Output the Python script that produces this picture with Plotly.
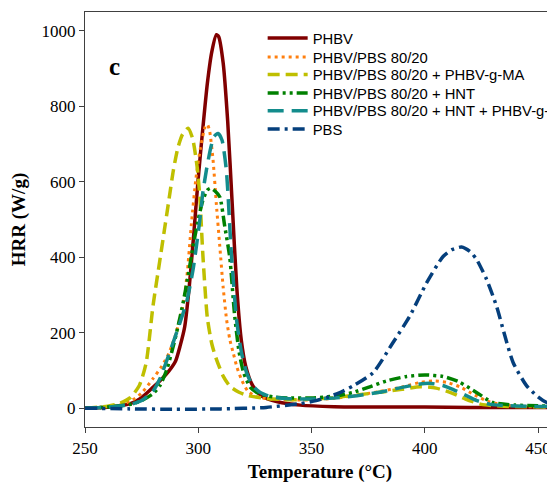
import plotly.graph_objects as go

# ---- data ----
phbv_T = [250, 260, 270, 275, 280, 284, 287, 290, 292, 294, 296, 298, 300, 302, 304, 306, 308, 309, 311, 313, 315, 317, 319, 321, 324, 328, 335, 345, 360, 380, 400, 420, 440, 458]
phbv_hrr = [0, 2, 12, 28, 55, 78, 98, 125, 165, 215, 320, 460, 610, 740, 860, 945, 990, 985, 915, 760, 540, 320, 180, 110, 60, 32, 17, 8, 4, 3, 3, 2, 2, 2]

blend_T = [250, 260, 265, 270, 275, 280, 284, 287, 290, 293, 295, 297, 299, 301, 303, 304, 305, 306.5, 308, 309.5, 311, 312.5, 314, 315.5, 317, 319, 322, 326, 332, 340, 350, 360, 370, 380, 390, 398, 404, 410, 416, 422, 428, 435, 445, 458]
blend_hrr = [0, 4, 8, 18, 40, 78, 112, 145, 195, 265, 350, 490, 610, 690, 745, 752, 735, 660, 540, 430, 320, 235, 180, 145, 110, 77, 44, 30, 24, 22, 22, 26, 34, 44, 56, 68, 72, 68, 55, 35, 18, 8, 4, 2]

ma_T = [250, 260, 265, 270, 274, 277, 280, 283, 285, 287, 289, 291, 293, 295.5, 297.5, 299.5, 300.7, 302, 304, 306, 308, 311, 314, 318, 322, 330, 340, 350, 360, 370, 380, 390, 398, 405, 412, 418, 425, 435, 458]
ma_hrr = [0, 5, 12, 28, 60, 120, 270, 390, 470, 550, 630, 690, 725, 742, 715, 640, 560, 410, 240, 170, 130, 85, 58, 42, 33, 26, 22, 24, 28, 35, 42, 50, 57, 53, 40, 24, 10, 5, 3]

hnt_T = [250, 260, 270, 275, 280, 283, 286, 289, 291, 293.3, 295.5, 297.7, 300, 302, 304, 305.5, 307.5, 309.5, 311.7, 313.9, 316, 318, 320, 323, 327, 333, 340, 350, 360, 368, 375, 383, 392, 400, 408, 415, 423, 430, 440, 450, 458]
hnt_hrr = [0, 3, 10, 20, 38, 59, 100, 165, 215, 279, 350, 429, 500, 550, 578, 583, 575, 560, 482, 400, 250, 150, 95, 55, 38, 30, 27, 27, 32, 41, 55, 72, 84, 88, 84, 70, 41, 15, 8, 6, 5]

hntma_T = [250, 260, 270, 275, 280, 283, 287.4, 291, 294.8, 297.7, 300.7, 302, 303.6, 305.5, 307, 308.8, 310.5, 312.4, 314.6, 316.9, 319, 321.3, 324, 327.2, 332, 340, 350, 360, 370, 380, 390, 397, 402, 408, 413, 417, 423, 429, 435, 445, 458]
hntma_hrr = [0, 3, 10, 20, 45, 77, 148, 210, 280, 367, 499, 570, 631, 690, 720, 728, 710, 631, 411, 235, 150, 95, 60, 42, 30, 25, 24, 27, 33, 42, 55, 63, 66, 60, 48, 37, 20, 10, 7, 5, 4]

pbs_T = [250, 270, 290, 310, 330, 345, 352, 356.6, 362, 368.4, 377.2, 386, 393.4, 400.8, 408.1, 412, 416.2, 420, 422.9, 427.3, 431.7, 435.4, 439, 445, 450, 453.8, 458]
pbs_hrr = [0, -2, -3, -2, 2, 12, 20, 28, 40, 59, 94, 174, 244, 332, 402, 420, 427, 415, 394, 341, 270, 191, 121, 59, 30, 15, 8]

series = [
    ("PHBV", phbv_T, phbv_hrr, "#800000", "solid", 3.5),
    ("PHBV/PBS 80/20", blend_T, blend_hrr, "#ff7f0e", "3px,4px", 3),
    ("PHBV/PBS 80/20 + PHBV-g-MA", ma_T, ma_hrr, "#bfbf00", "12px,6px", 3.5),
    ("PHBV/PBS 80/20 + HNT", hnt_T, hnt_hrr, "#008000", "11px,4px,3px,4px,3px,4px", 3.5),
    ("PHBV/PBS 80/20 + HNT + PHBV-g-MA", hntma_T, hntma_hrr, "#138c8c", "16px,8px", 3.5),
    ("PBS", pbs_T, pbs_hrr, "#053f7c", "12px,5px,3px,5px", 3.5),
]

# one single-entry legend per series, so the row spacing can follow the reference
legend_rows_y = [0.9366, 0.8908, 0.8482, 0.8041, 0.7614, 0.7173]
legend_ids = ["legend", "legend2", "legend3", "legend4", "legend5", "legend6"]

fig = go.Figure()
for (name, xs, ys, color, dash, w), lid in zip(series, legend_ids):
    fig.add_trace(go.Scatter(
        x=xs, y=ys, name=name, mode="lines", legend=lid,
        line=dict(color=color, dash=dash, width=w, shape="spline", smoothing=0.6),
    ))

SERIF = "Times New Roman, Liberation Serif, serif"
SANS = "Arial, Liberation Sans, sans-serif"
axis_font = dict(family=SERIF, size=17, color="black")
title_font = dict(family=SERIF, size=19, color="black")

legend_layout = {}
for lid, ly in zip(legend_ids, legend_rows_y):
    legend_layout[lid] = dict(
        x=0.378, y=ly, xanchor="left", yanchor="middle",
        bgcolor="rgba(0,0,0,0)",
        font=dict(family=SANS, size=14.8, color="black"),
        itemwidth=40,
    )

# the page body has an 8px margin, so the figure is sized to the visible area
fig.update_layout(
    width=547, height=476,
    margin=dict(l=77, r=0, t=4, b=57, autoexpand=False),
    font=dict(family=SERIF, size=17, color="black"),
    paper_bgcolor="white", plot_bgcolor="white",
    showlegend=True,
    xaxis=dict(
        range=[250, 457.5], tickvals=[250, 300, 350, 400, 450],
        showgrid=False, zeroline=False, automargin=False,
        showline=True, linecolor="#404040", linewidth=1.3, mirror=True,
        ticks="outside", ticklen=5, tickcolor="#404040",
        tickfont=axis_font,
        title=dict(text="<b>Temperature (°C)</b>", font=title_font, standoff=8),
    ),
    yaxis=dict(
        range=[-50, 1050], tickvals=[0, 200, 400, 600, 800, 1000],
        showgrid=False, zeroline=False, automargin=False,
        showline=True, linecolor="#404040", linewidth=1.3, mirror=True,
        ticks="outside", ticklen=5, tickcolor="#404040",
        tickfont=axis_font,
        title=dict(text="<b>HRR (W/g)</b>", font=title_font, standoff=14),
    ),
    annotations=[dict(
        text="<b>c</b>", x=0.047, y=0.905, xref="paper", yref="paper",
        showarrow=False, font=dict(family=SERIF, size=25, color="black"),
    )],
    **legend_layout,
)

fig.write_html("out.html")
